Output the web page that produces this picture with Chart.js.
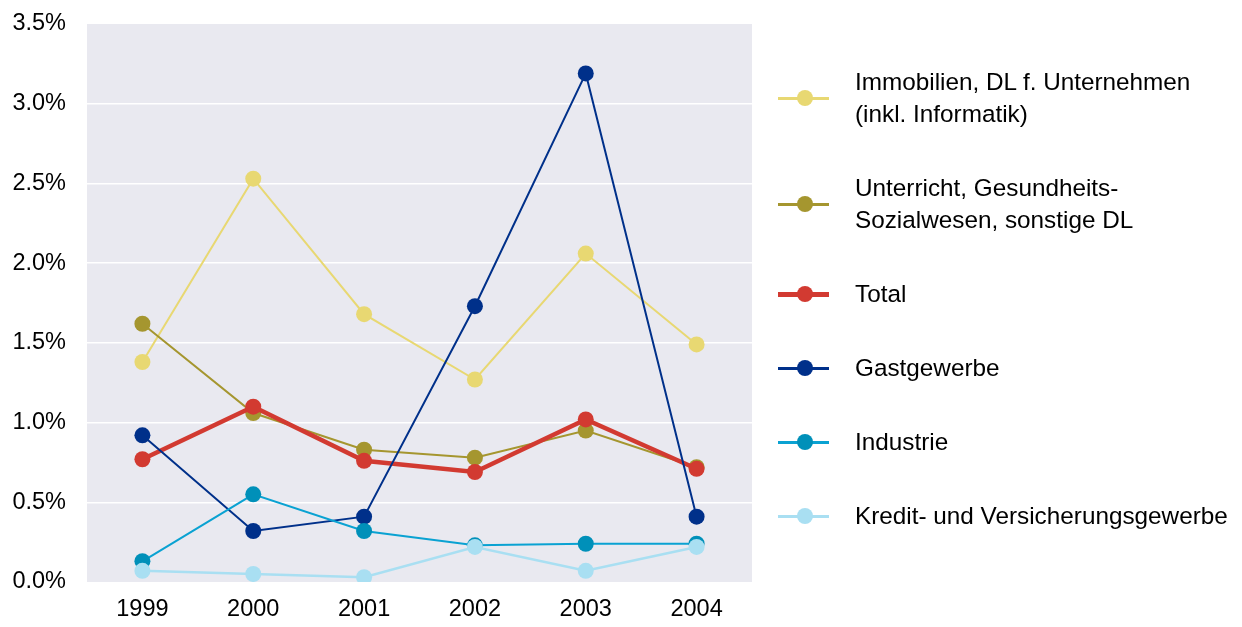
<!DOCTYPE html>
<html>
<head>
<meta charset="utf-8">
<script src="https://cdn.jsdelivr.net/npm/chart.js@4.4.0/dist/chart.umd.min.js"></script>
<style>
  html, body { margin: 0; padding: 0; background: #fff; }
  #wrap { position: relative; width: 1242px; height: 627px; }
  #legend { position: absolute; left: 778px; top: 66px; font-family: "Liberation Sans", Arial, sans-serif; font-size: 24.3px; color: #000; }
  .item { position: relative; padding-left: 77px; line-height: 32px; margin-bottom: 42px; white-space: nowrap; }
  .sym { position: absolute; left: 0; top: 50%; width: 51px; }
  .sym .ln { position: absolute; left: 0; width: 51px; }
  .sym .dot { position: absolute; left: 19px; top: -8px; width: 16px; height: 16px; border-radius: 50%; }
</style>
</head>
<body>
<div id="wrap">
  <canvas id="myChart" width="1242" height="627"></canvas>
  <div id="legend"></div>
</div>
<script>
// years on the x axis
var years = ['1999', '2000', '2001', '2002', '2003', '2004'];

// series labels (legend order)
var seriesNames = [
  ['Immobilien, DL f. Unternehmen', '(inkl. Informatik)'],
  ['Unterricht, Gesundheits-', 'Sozialwesen, sonstige DL'],
  ['Total'],
  ['Gastgewerbe'],
  ['Industrie'],
  ['Kredit- und Versicherungsgewerbe']
];

// values in %
var immobilien = [1.38, 2.53, 1.68, 1.27, 2.06, 1.49];
var unterricht = [1.62, 1.06, 0.83, 0.78, 0.95, 0.72];
var total      = [0.77, 1.10, 0.76, 0.69, 1.02, 0.71];
var gastgewerbe = [0.92, 0.32, 0.41, 1.73, 3.19, 0.41];
var industrie  = [0.13, 0.55, 0.32, 0.23, 0.24, 0.24];
var kredit     = [0.07, 0.05, 0.03, 0.22, 0.07, 0.22];

var yTicks = [0, 0.5, 1.0, 1.5, 2.0, 2.5, 3.0, 3.5];

var lineColors  = ['#e8d872', '#a5962f', '#d23a31', '#00308a', '#0aa2d2', '#a9dff2'];
var pointColors = ['#e8d872', '#a5962f', '#d23a31', '#00308a', '#0090b9', '#a9dff2'];
var lineWidths  = [2, 2, 4.5, 2, 2, 2.5];
var allValues = [immobilien, unterricht, total, gastgewerbe, industrie, kredit];

var FONT = '"Liberation Sans", Arial, sans-serif';

// grey plot background
var plotBg = {
  id: 'plotBg',
  beforeDraw: function(chart) {
    var a = chart.chartArea, c = chart.ctx;
    c.save();
    c.fillStyle = '#e9e9f0';
    c.fillRect(a.left, a.top, a.right - a.left, a.bottom - a.top);
    c.restore();
  }
};

var datasets = allValues.map(function(vals, i) {
  return {
    label: seriesNames[i].join(' '),
    data: vals,
    borderColor: lineColors[i],
    backgroundColor: pointColors[i],
    pointBackgroundColor: pointColors[i],
    pointBorderWidth: 0,
    pointRadius: 8,
    borderWidth: lineWidths[i],
    tension: 0,
    order: allValues.length - i  // later series drawn on top
  };
});

var ctx = document.getElementById('myChart');
var chart = new Chart(ctx, {
  type: 'line',
  data: { labels: years, datasets: datasets },
  plugins: [plotBg],
  options: {
    responsive: false,
    animation: false,
    layout: { padding: { top: 24, right: 490, left: 0, bottom: 0 } },
    plugins: { legend: { display: false }, tooltip: { enabled: false } },
    scales: {
      x: {
        offset: true,
        grid: { display: false, drawTicks: false },
        border: { display: false },
        ticks: { color: '#000', font: { family: FONT, size: 23.5 }, padding: 13 },
        afterFit: function(s) { s.height = 45; s.paddingLeft = 0; s.paddingRight = 0; }
      },
      y: {
        min: 0, max: 3.5,
        afterBuildTicks: function(s) { s.ticks = yTicks.map(function(v) { return { value: v }; }); },
        grid: {
          drawTicks: false,
          color: function(c) { return (c.tick && (c.tick.value === 0 || c.tick.value === 3.5)) ? 'rgba(0,0,0,0)' : '#ffffff'; },
          lineWidth: 1.5
        },
        border: { display: false },
        ticks: {
          color: '#000',
          font: { family: FONT, size: 23.5 },
          padding: 21,
          callback: function(v) { return v.toFixed(1) + '%'; }
        },
        afterFit: function(s) { s.width = 87; s.paddingTop = 0; s.paddingBottom = 0; }
      }
    }
  }
});

// legend
var leg = document.getElementById('legend');
seriesNames.forEach(function(name, i) {
  var it = document.createElement('div');
  it.className = 'item';
  var lw = i === 2 ? 5 : 3;
  it.innerHTML = '<div class="sym"><div class="ln" style="top:' + (-lw / 2) + 'px;height:' + lw + 'px;background:' + lineColors[i] + '"></div>' +
    '<div class="dot" style="background:' + pointColors[i] + '"></div></div>' + name.join('<br>');
  leg.appendChild(it);
});
</script>
</body>
</html>
